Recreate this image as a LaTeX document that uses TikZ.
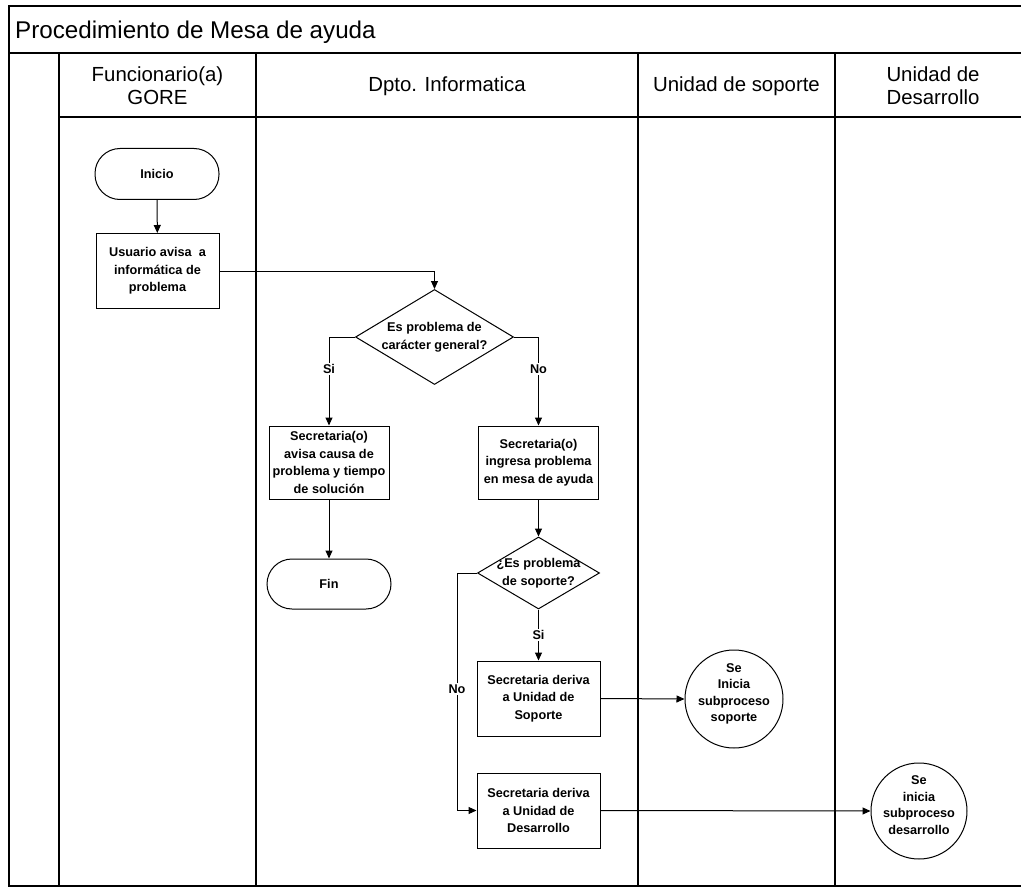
\documentclass[tikz,border=0pt]{standalone}
\usepackage{fontspec}
\setmainfont{Liberation Sans}
\usetikzlibrary{arrows.meta,shapes.geometric}
\newcommand\ndtxt{\bfseries\fontsize{12.7}{17.5}\selectfont}
\newcommand\hdtxt{\fontsize{20.4}{23}\selectfont}
\begin{document}
\begin{tikzpicture}[x=1pt,y=-1pt,
  frame/.style={line width=1.3pt},
  hdr/.style={align=center, inner sep=0pt, font=\hdtxt},
  proc/.style={draw, line width=1pt, minimum width=123pt, minimum height=75pt, align=center, inner sep=0pt, font=\ndtxt},
  term/.style={draw, line width=1pt, rounded corners=25pt, minimum width=124pt, minimum height=51pt, inner sep=0pt, font=\ndtxt},
  dec/.style={draw, diamond, line width=1pt, inner sep=0pt},
  dtext/.style={align=center, inner sep=0pt, font=\ndtxt},
  circ/.style={draw, circle, line width=1pt, minimum size=98pt, inner sep=0pt},
  arr/.style={-{Triangle[length=8pt,width=7pt]}, line width=1pt},
  lbl/.style={fill=white, inner sep=1.5pt, font=\ndtxt}]
\useasboundingbox (0,0) rectangle (1021,888);
% frame and lanes
\draw[frame] (1040,6) -- (9,6) -- (9,886) -- (1040,886);
\draw[frame] (9,53) -- (1040,53);
\draw[frame] (59,117) -- (1040,117);
\foreach \xx in {59,256,638,835} \draw[frame] (\xx,53) -- (\xx,886);
% title and headers
\node[anchor=base west, inner sep=0pt, font=\fontsize{24.2}{27}\selectfont] (title) at (15,39) {Procedimiento de Mesa de ayuda};
\node[hdr] (h1) at (157.5,86) {Funcionario(a)\\GORE};
\node[hdr] (h2) at (447,86) {Dpto. Informatica};
\node[hdr] (h3) at (736.5,86) {Unidad de soporte};
\node[hdr] (h4) at (933,86) {Unidad de\\Desarrollo};
% nodes
\node[term] (inicio) at (157,174) {Inicio};
\node[proc] (usuario) at (157.5,271) {Usuario avisa\ \ a\\informática de\\problema};
\node[dec, minimum width=158pt, minimum height=95pt] (d1) at (434.5,337) {};
\node[dtext] (d1t) at (d1) {Es problema de\\carácter general?};
\node[proc, minimum width=120pt, minimum height=73pt] (avisa) at (329,462.5) {Secretaria(o)\\avisa causa de\\problema y tiempo\\de solución};
\node[term, minimum height=50pt] (fin) at (329,584) {Fin};
\node[proc, minimum width=120pt, minimum height=73pt] (ingresa) at (538.5,462.5) {Secretaria(o)\\ingresa problema\\en mesa de ayuda};
\node[dec, minimum width=122pt, minimum height=72pt] (d2) at (538.5,573) {};
\node[dtext] (d2t) at (d2) {¿Es problema\\de soporte?};
\node[proc] (soporte) at (538.5,698.5) {Secretaria deriva\\a Unidad de\\Soporte};
\node[proc] (desarrollo) at (538.5,810.5) {Secretaria deriva\\a Unidad de\\Desarrollo};
\node[circ] (c1) at (734,699) {};
\node[dtext, font=\ndtxt\fontsize{12.7}{16.5}\selectfont] (c1t) at (734,694) {Se\\Inicia\\subproceso\\soporte};
\node[circ, minimum size=96pt] (c2) at (919,811) {};
\node[dtext, font=\ndtxt\fontsize{12.7}{16.5}\selectfont] (c2t) at (919,805) {Se\\inicia\\subproceso\\desarrollo};
\coordinate (nocorner) at (457,573);
% connectors
\draw[arr] (inicio) -- (usuario);
\draw[arr] (usuario.east) -| (d1.north);
\draw[arr] (d1.west) -| node[lbl, pos=0.68] {Si} (avisa.north);
\draw[arr] (d1.east) -| node[lbl, pos=0.68] {No} (ingresa.north);
\draw[arr] (avisa) -- (fin);
\draw[arr] (ingresa) -- (d2.north);
\draw[arr] (d2.south) -- node[lbl] {Si} (soporte.north);
\draw[arr] (d2.west) -- (nocorner) |- node[lbl, pos=0.245] {No} (desarrollo.west);
\draw[arr] (soporte.east) -- (c1.west);
\draw[arr] (desarrollo.east) -- (c2.west);
\end{tikzpicture}
\end{document}
